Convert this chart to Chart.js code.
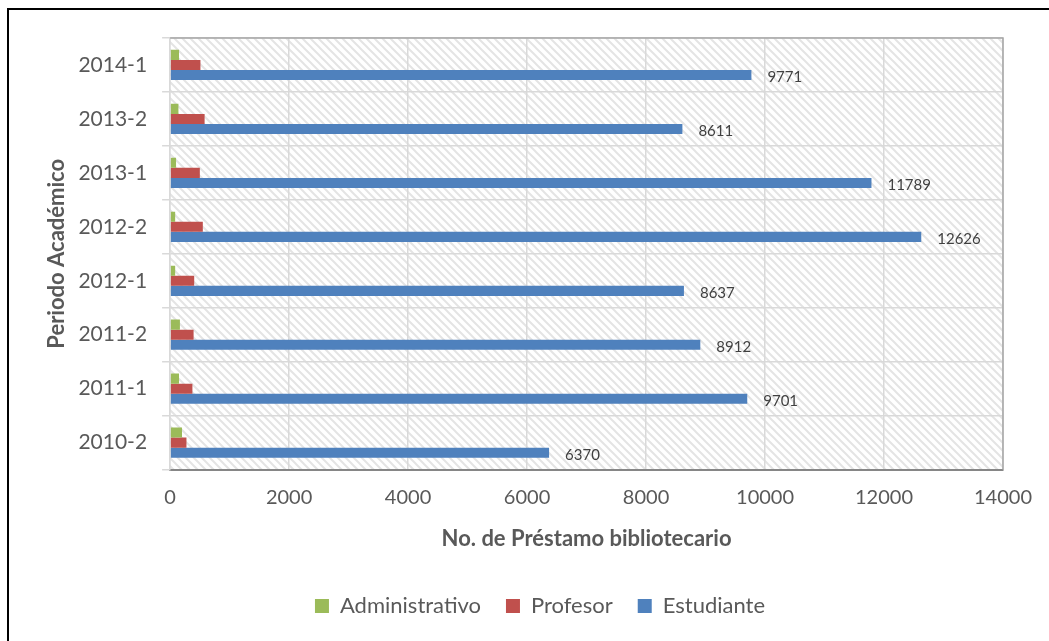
<!DOCTYPE html>
<html>
<head>
<meta charset="utf-8">
<script src="https://cdn.jsdelivr.net/npm/chart.js@4"></script>
<style>
  html, body { margin: 0; padding: 0; background: #fff; }
  #wrap { position: relative; width: 1049px; height: 641px; overflow: hidden; }
  #frame { position: absolute; left: 7px; top: 8px; width: 1100px; height: 700px;
           border-left: 2px solid #000; border-top: 2px solid #000; }
  canvas { position: absolute; left: 0; top: 0; }
</style>
</head>
<body>
<div id="wrap">
  <div id="frame"></div>
  <canvas id="prestamos" width="1049" height="641"></canvas>
</div>
<script>
// periods, top to bottom as in the picture
const periodos = ['2014-1', '2013-2', '2013-1', '2012-2', '2012-1', '2011-2', '2011-1', '2010-2'];
const administrativo = [150, 140, 100, 85, 85, 165, 150, 200];
const profesor = [510, 580, 500, 550, 405, 395, 375, 275];
const estudiante = [9771, 8611, 11789, 12626, 8637, 8912, 9701, 6370];

const TXT = '#595959';
const FONT = 'Lato';

// hatch pattern for the plot area
function makeHatch() {
    const c = document.createElement('canvas');
    c.width = 8; c.height = 8;
    const g = c.getContext('2d');
    g.fillStyle = '#fff';
    g.fillRect(0, 0, 8, 8);
    g.strokeStyle = '#e4e4e4';
    g.lineWidth = 2;
    g.beginPath();
    g.moveTo(-2, -2); g.lineTo(10, 10);
    g.moveTo(-2, 6); g.lineTo(2, 10);
    g.moveTo(6, -2); g.lineTo(10, 2);
    g.stroke();
    return g.createPattern(c, 'repeat');
}

const plotBack = {
    id: 'plotBack',
    beforeDraw(chart) {
        const a = chart.chartArea, ctx = chart.ctx;
        ctx.save();
        ctx.fillStyle = makeHatch();
        ctx.fillRect(a.left, a.top, a.right - a.left, a.bottom - a.top);
        ctx.restore();
    },
    afterDraw(chart) {
        const a = chart.chartArea, ctx = chart.ctx;
        ctx.save();
        ctx.strokeStyle = '#a6a6a6';
        ctx.lineWidth = 1.5;
        ctx.beginPath();
        ctx.moveTo(a.left, a.top);
        ctx.lineTo(a.right, a.top);
        ctx.lineTo(a.right, a.bottom);
        ctx.stroke();
        // value labels for Estudiante
        const meta = chart.getDatasetMeta(2);
        ctx.fillStyle = '#404040';
        ctx.font = '15px ' + FONT;
        ctx.textAlign = 'left';
        ctx.textBaseline = 'middle';
        meta.data.forEach((bar, i) => {
            ctx.fillText(estudiante[i], bar.x + 16, bar.y + 2);
        });
        ctx.restore();
    }
};

new Chart(document.getElementById('prestamos'), {
    type: 'bar',
    data: {
        labels: periodos,
        datasets: [
            { label: 'Administrativo', data: administrativo, backgroundColor: '#9BBB59' },
            { label: 'Profesor', data: profesor, backgroundColor: '#C0504D' },
            { label: 'Estudiante', data: estudiante, backgroundColor: '#4F81BD' }
        ]
    },
    options: {
        indexAxis: 'y',
        responsive: false,
        animation: false,
        devicePixelRatio: 1,
        categoryPercentage: 0.56,
        barPercentage: 1,
        layout: { padding: { left: 77, right: 46, top: 38, bottom: 14 } },
        plugins: {
            tooltip: { enabled: false },
            legend: {
                position: 'bottom',
                labels: {
                    color: TXT,
                    font: { family: FONT, size: 22 },
                    boxWidth: 14,
                    boxHeight: 14,
                    padding: 25
                }
            }
        },
        scales: {
            x: {
                min: 0,
                max: 14000,
                ticks: {
                    stepSize: 2000, color: TXT, font: { family: FONT, size: 20 }, padding: 16,
                    callback: v => String(v)
                },
                grid: { color: '#d9d9d9', lineWidth: 1.5, drawTicks: false },
                border: { color: '#868686', width: 2 },
                title: {
                    display: true,
                    text: 'No. de Préstamo bibliotecario',
                    color: TXT,
                    font: { family: FONT, size: 22, weight: 'bold' },
                    padding: { top: 0, bottom: 18 }
                }
            },
            y: {
                ticks: { color: TXT, font: { family: FONT, size: 21 }, padding: 15 },
                grid: { color: '#d9d9d9', lineWidth: 1.5, tickLength: 8 },
                border: { color: '#d9d9d9', width: 1.5 },
                title: {
                    display: true,
                    text: 'Periodo Académico',
                    color: TXT,
                    font: { family: FONT, size: 22, weight: 'bold' },
                    padding: { top: -33, bottom: -7 }
                }
            }
        }
    },
    plugins: [plotBack]
});
</script>
</body>
</html>
